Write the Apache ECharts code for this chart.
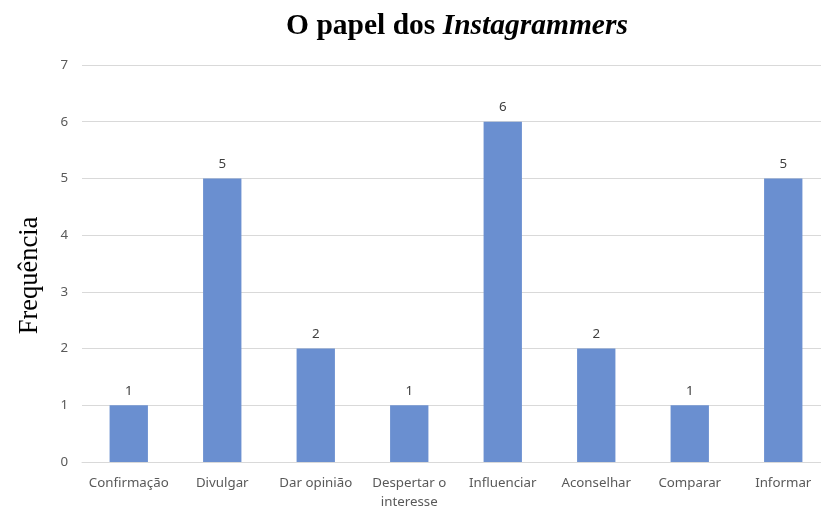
<!DOCTYPE html>
<html>
<head>
<meta charset="utf-8">
<script src="https://cdn.jsdelivr.net/npm/echarts@6/dist/echarts.min.js"></script>
<style>
  html, body { margin: 0; padding: 0; background: #fff; }
  #chart { width: 821px; height: 507px; }
</style>
</head>
<body>
<div id="chart"></div>
<script>
// Roles attributed to Instagrammers and how often each was mentioned
const categories = ['Confirmação', 'Divulgar', 'Dar opinião', 'Despertar o\ninteresse', 'Influenciar', 'Aconselhar', 'Comparar', 'Informar'];
const frequencies = [1, 5, 2, 1, 6, 2, 1, 5];
const yTicks = [0, 1, 2, 3, 4, 5, 6, 7];

const chart = echarts.init(document.getElementById('chart'));
const labelFont = '"Noto Sans", "Open Sans", sans-serif';
const serifFont = '"Liberation Serif", "DejaVu Serif", serif';

chart.setOption({
  animation: false,
  backgroundColor: '#ffffff',
  title: {
    text: '{b|O papel dos }{i|Instagrammers}',
    left: 452,
    textAlign: 'center',
    top: 6,
    textStyle: {
      rich: {
        b: { fontFamily: serifFont, fontWeight: 'bold', fontSize: 29.5, color: '#000' },
        i: { fontFamily: serifFont, fontWeight: 'bold', fontStyle: 'italic', fontSize: 29.5, color: '#000' }
      }
    }
  },
  // the plot runs a little past the right edge of the canvas
  grid: {
    left: 82, top: 65, width: 748, height: 397,
    containLabel: false,
    outerBoundsMode: 'none'
  },
  xAxis: {
    type: 'category',
    data: categories,
    axisLine: { show: true, lineStyle: { color: '#d9d9d9', width: 1 } },
    axisTick: { show: false },
    axisLabel: {
      interval: 0,
      color: '#595959',
      fontFamily: labelFont,
      fontSize: 13.3,
      lineHeight: 19,
      margin: 12
    }
  },
  yAxis: {
    type: 'value',
    min: yTicks[0],
    max: yTicks[yTicks.length - 1],
    interval: 1,
    name: 'Frequência',
    nameLocation: 'middle',
    nameGap: 38,
    nameRotate: 90,
    nameTextStyle: {
      fontFamily: serifFont,
      fontSize: 26.5,
      color: '#000',
      padding: [0, 24, 0, 0]
    },
    axisLine: { show: false },
    axisTick: { show: false },
    splitLine: { lineStyle: { color: '#d9d9d9', width: 1 } },
    axisLabel: {
      color: '#595959',
      fontFamily: labelFont,
      fontSize: 13.3,
      margin: 14
    }
  },
  series: [{
    type: 'bar',
    data: frequencies,
    barWidth: '41%',
    itemStyle: { color: '#6a8fd0' },
    label: {
      show: true,
      position: 'top',
      distance: 8,
      color: '#404040',
      fontFamily: labelFont,
      fontSize: 13.3
    }
  }]
});
</script>
</body>
</html>
